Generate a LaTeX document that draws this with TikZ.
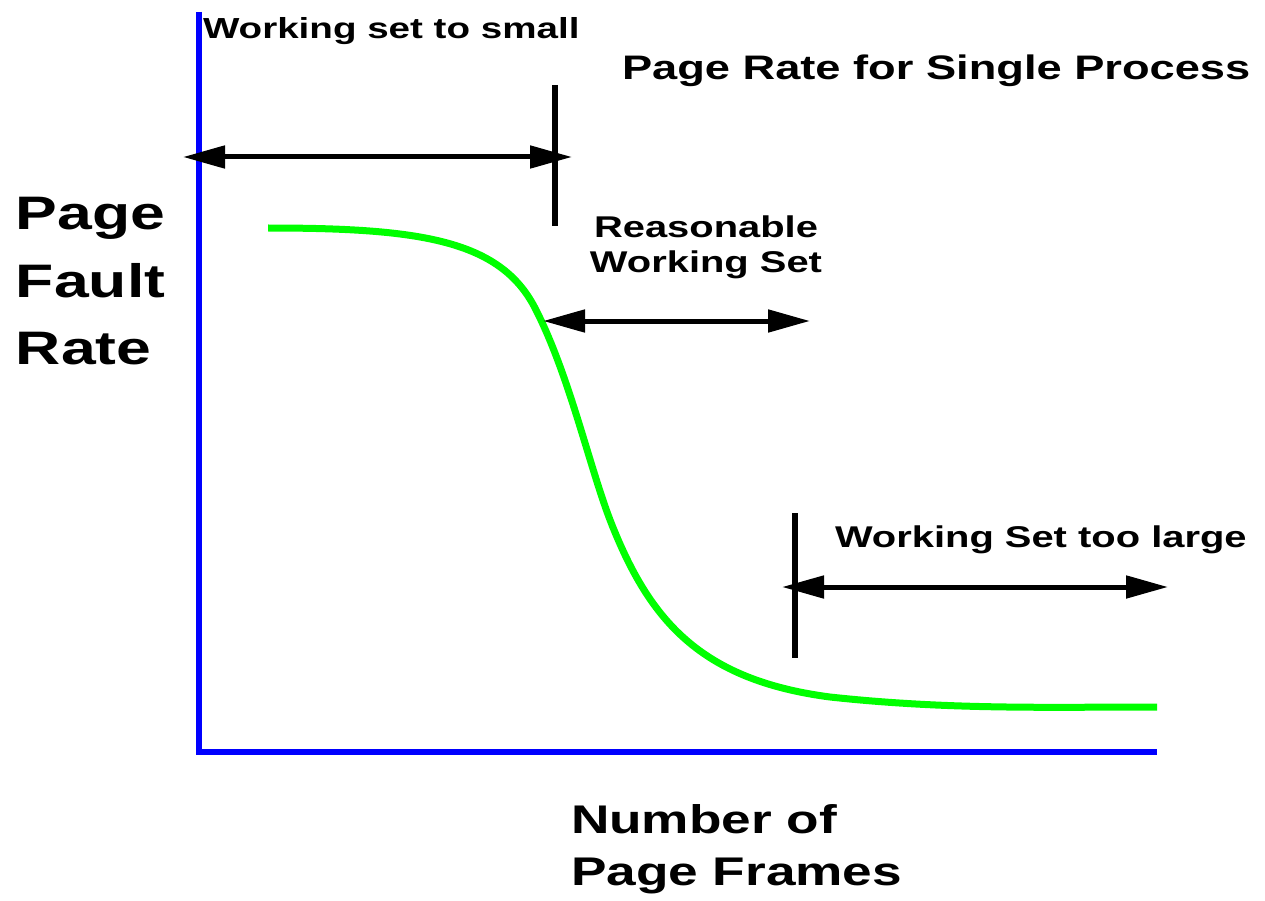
\documentclass[tikz,border=0pt]{standalone}
\usepackage{fontspec}
\setmainfont{Liberation Sans}
\usepackage{graphicx}
\usetikzlibrary{arrows.meta}
\newcommand\widetxt[3]{\scalebox{1.33}[1.0]{\fontsize{#1}{#2}\selectfont\bfseries #3}}
\begin{document}
\begin{tikzpicture}[x=1pt,y=-1pt,
  lbl/.style={inner sep=0pt, outer sep=0pt},
  axisline/.style={draw={rgb,255:red,0;green,0;blue,255}, line width=6pt},
  curveline/.style={draw={rgb,255:red,0;green,255;blue,0}, line width=7pt},
  dimarrow/.style={draw=black, line width=5pt, {Triangle[length=42pt,width=22pt]}-{Triangle[length=42pt,width=22pt]}},
  tickline/.style={draw=black, line width=6pt}]
\useasboundingbox (0,0) rectangle (1265,901);
% axes
\coordinate (ytop) at (199,12);
\coordinate (origin) at (199,752);
\coordinate (xend) at (1157,752);
\draw[axisline] (ytop) -- (origin) -- (xend);
% curve
\coordinate (c0) at (268,228);
\coordinate (c1) at (1157,707);
\draw[curveline] (c0) .. controls (420,228) and (500,240) .. (535,308)
  .. controls (570,376) and (590,470) .. (612,525)
  .. controls (650,620) and (700,680) .. (830,697)
  .. controls (950,710) and (1050,707) .. (c1);
% ticks
\coordinate (t1a) at (555,85);
\coordinate (t1b) at (555,226);
\draw[tickline] (t1a) -- (t1b);
\coordinate (t2a) at (795,513);
\coordinate (t2b) at (795,658);
\draw[tickline] (t2a) -- (t2b);
% arrows
\coordinate (a1l) at (183,157);
\coordinate (a1r) at (572,157);
\draw[dimarrow] (a1l) -- (a1r);
\coordinate (a2l) at (543,321);
\coordinate (a2r) at (810,321);
\draw[dimarrow] (a2l) -- (a2r);
\coordinate (a3l) at (782,587);
\coordinate (a3r) at (1168,587);
\draw[dimarrow] (a3l) -- (a3r);
% labels
\node[lbl, anchor=base west] (small) at (203,39) {\widetxt{29}{35}{Working set to small}};
\node[lbl, anchor=base west] (title) at (622,80) {\widetxt{34}{40}{Page Rate for Single Process}};
\node[lbl, anchor=base west] (ylabel) at (16,230) {\widetxt{47}{67}{\begin{tabular}[t]{@{}l@{}}Page\\Fault\\Rate\end{tabular}}};
\node[lbl, anchor=base] (reason) at (706,238) {\widetxt{30}{35}{\begin{tabular}[t]{@{}c@{}}Reasonable\\Working Set\end{tabular}}};
\node[lbl, anchor=base west] (large) at (835,547) {\widetxt{30}{36}{Working Set too large}};
\node[lbl, anchor=base west] (xlabel) at (571,833) {\widetxt{40}{52}{\begin{tabular}[t]{@{}l@{}}Number of\\Page Frames\end{tabular}}};
\end{tikzpicture}
\end{document}
